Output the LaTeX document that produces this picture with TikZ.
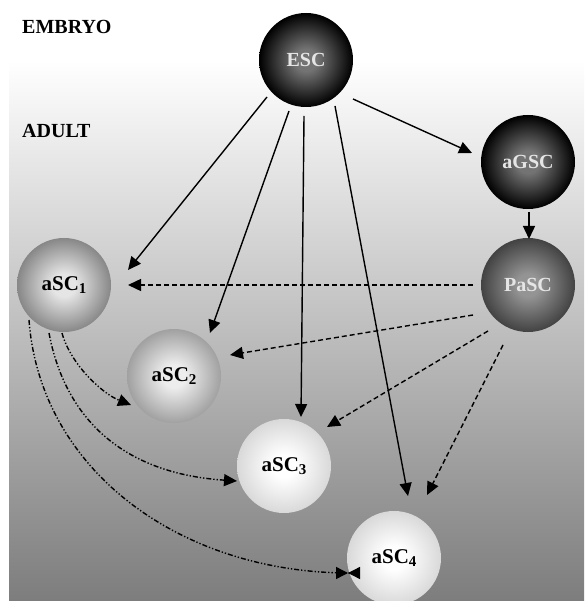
\documentclass[tikz,border=0pt]{standalone}
\usepackage{fontspec}
\setmainfont{Liberation Serif}
\usetikzlibrary{arrows.meta}

% background and sphere shadings
\pgfdeclareverticalshading{bgfade}{100bp}{color(0bp)=(black!51); color(25bp)=(black!51); color(70bp)=(white); color(100bp)=(white)}
\newcommand{\ballshade}[3]{\pgfdeclareradialshading{#1}{\pgfpoint{0bp}{0bp}}{color(0bp)=(#2); color(6bp)=(#2); color(25bp)=(#3); color(50bp)=(#3)}}
\ballshade{darkball}{black!55}{black}
\ballshade{pasball}{black!42}{black!74}
\ballshade{oneball}{black!10}{black!47}
\ballshade{twoball}{black!7}{black!37}
\ballshade{lightball}{white}{black!15}
\newcommand{\lowsub}[1]{\raisebox{-3pt}{\fontsize{15}{15}\selectfont #1}}

\begin{document}
\begin{tikzpicture}[x=1pt, y=-1pt, >={Triangle[length=13pt,width=12pt]},
  cell/.style={circle, shade, minimum size=94pt, inner sep=0pt, font=\fontsize{20}{20}\selectfont\bfseries},
  acell/.style={cell, font=\fontsize{21}{21}\selectfont\bfseries},
  lbl/.style={anchor=base west, inner sep=0pt, font=\fontsize{20}{20}\selectfont\bfseries},
  link/.style={->, line width=1.4pt},
  dlink/.style={->, line width=1.4pt, dash pattern=on 5pt off 3pt},
  ddlink/.style={->, line width=1.4pt, dash pattern=on 5pt off 2pt on 1.3pt off 2pt on 1.3pt off 2pt}]
\useasboundingbox (0,0) rectangle (584,601);
\shade[shading=bgfade] (9,0) rectangle (584,601);

\node[lbl] (embryo) at (22,34) {EMBRYO};
\node[lbl] (adult) at (22,138) {ADULT};

\node[cell, shading=darkball, text=white!90!black] (ESC) at (306,60) {ESC};
\node[cell, shading=darkball, text=white!90!black] (aGSC) at (528,162) {aGSC};
\node[cell, shading=pasball, text=white!90!black] (PaSC) at (528,285) {PaSC};
\node[acell, shading=oneball] (aSC1) at (64,285) {aSC\lowsub{1}};
\node[acell, shading=twoball] (aSC2) at (174,376) {aSC\lowsub{2}};
\node[acell, shading=lightball] (aSC3) at (284,466) {aSC\lowsub{3}};
\node[acell, shading=lightball] (aSC4) at (394,558) {aSC\lowsub{4}};

% from ESC
\draw[link] ([shift={(-39,37)}]ESC.center) -- ([shift={(64,-15)}]aSC1.center);
\draw[link] ([shift={(-17,51)}]ESC.center) -- ([shift={(36,-43)}]aSC2.center);
\draw[link] ([shift={(-2,56)}]ESC.center) -- ([shift={(17,-49)}]aSC3.center);
\draw[link] ([shift={(29,46)}]ESC.center) -- ([shift={(14,-62)}]aSC4.center);
\draw[link] ([shift={(47,39)}]ESC.center) -- ([shift={(-56,-9)}]aGSC.center);
\draw[link] ([shift={(1,50)}]aGSC.center) -- ([shift={(1,-46)}]PaSC.center);

% from PaSC
\draw[dlink] ([shift={(-55,0)}]PaSC.center) -- ([shift={(64,0)}]aSC1.center);
\draw[dlink] ([shift={(-55,30)}]PaSC.center) -- ([shift={(56,-21)}]aSC2.center);
\draw[dlink] ([shift={(-40,46)}]PaSC.center) -- ([shift={(43,-39)}]aSC3.center);
\draw[dlink] ([shift={(-25,60)}]PaSC.center) -- ([shift={(33,-63)}]aSC4.center);

% from aSC1
\draw[ddlink] ([shift={(-2,48)}]aSC1.center) .. controls +(8,30) and +(-30,-12) .. ([shift={(-43,29)}]aSC2.center);
\draw[ddlink] ([shift={(-15,48)}]aSC1.center) .. controls +(15,80) and +(-120,-8) .. ([shift={(-47,15)}]aSC3.center);
\draw[ddlink, -{Triangle[length=12pt,width=12pt] Triangle[reversed,length=12pt,width=12pt]}] ([shift={(-35,35)}]aSC1.center) .. controls +(11,150) and +(-180,0) .. ([shift={(-34,15)}]aSC4.center);
\end{tikzpicture}
\end{document}
